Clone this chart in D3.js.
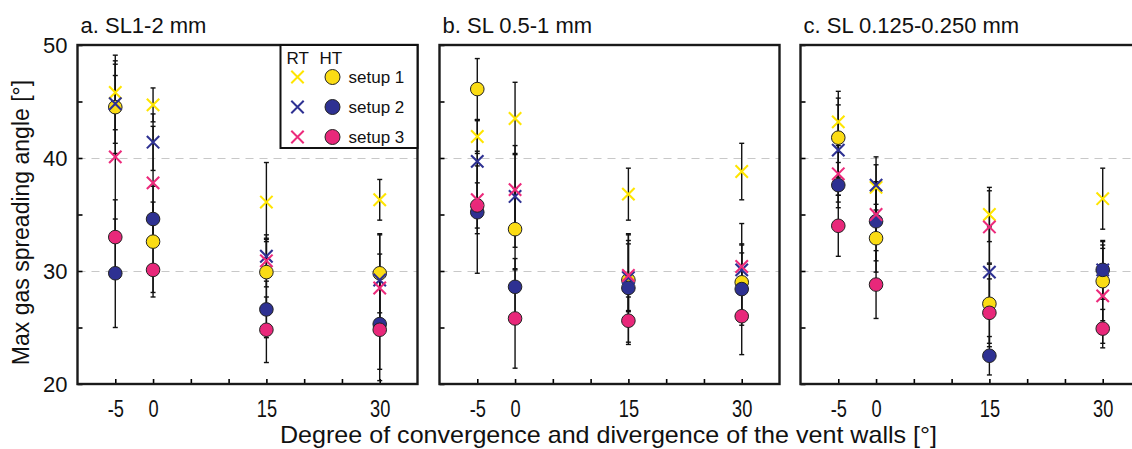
<!DOCTYPE html>
<html>
<head>
<meta charset="utf-8">
<script src="https://cdn.jsdelivr.net/npm/d3@7"></script>
<style>
  body { margin: 0; background: #fff; }
  svg { display: block; font-family: "Liberation Sans", Arial, sans-serif; }
  .grid line { stroke: #c8c8c8; stroke-dasharray: 8,6; stroke-width: 1.2; }
  .axis path { display: none; }
  .axis line { stroke: #000; stroke-width: 1.6; }
  .frame { fill: none; stroke: #1a1a1a; stroke-width: 2.4; }
  .ebar { stroke: #111; stroke-width: 1.4; }
</style>
</head>
<body>
<svg width="1132" height="449"></svg>
<script>
// x categories (degree of convergence / divergence)
var angles = [-5, 0, 15, 30];
var titles = ['a. SL1-2 mm', 'b. SL 0.5-1 mm', 'c. SL 0.125-0.250 mm'];
var seriesNames = ['RT1', 'RT2', 'RT3', 'HT1', 'HT2', 'HT3'];
var yTicks = [20, 25, 30, 35, 40, 45, 50];
var xTicks = [-5, 0, 5, 10, 15, 20, 25, 30];
var xLabels = [-5, 0, 15, 30];

// panel a: SL 1-2 mm
var a_RT1 = [45.8, 44.7, 36.1, 36.3];
var a_RT2 = [44.8, 41.4, 31.3, 29.2];
var a_RT3 = [40.1, 37.8, 30.9, 28.5];
var a_HT1 = [44.5, 32.6, 29.9, 29.8];
var a_HT2 = [29.8, 34.6, 26.6, 25.3];
var a_HT3 = [33.0, 30.1, 24.8, 24.8];
var a_errRT1 = [3.3, 1.5, 3.5, 1.8];
var a_errRT2 = [3.5, 2.5, 1.5, 4.0];
var a_errRT3 = [7.2, 5.0, 2.3, 3.0];
var a_errHT1 = [4.1, 4.9, 3.0, 3.5];
var a_errHT2 = [4.8, 1.5, 2.5, 4.0];
var a_errHT3 = [3.3, 2.0, 2.9, 4.5];

// panel b: SL 0.5-1 mm
var b_RT1 = [41.9, 43.5, 36.8, 38.8];
var b_RT2 = [39.7, 36.6, 29.4, 30.1];
var b_RT3 = [36.3, 37.2, 29.6, 30.4];
var b_HT1 = [46.1, 33.7, 29.2, 29.0];
var b_HT2 = [35.2, 28.6, 28.5, 28.4];
var b_HT3 = [35.8, 25.8, 25.6, 26.0];
var b_errRT1 = [1.5, 3.2, 2.3, 2.5];
var b_errRT2 = [3.6, 4.5, 3.0, 4.1];
var b_errRT3 = [3.0, 3.2, 3.1, 2.0];
var b_errHT1 = [2.7, 3.6, 4.0, 3.3];
var b_errHT2 = [5.4, 2.5, 4.8, 3.2];
var b_errHT3 = [2.0, 4.4, 2.1, 3.4];

// panel c: SL 0.125-0.250 mm
var c_RT1 = [43.2, 37.4, 35.0, 36.4];
var c_RT2 = [40.7, 37.6, 29.9, 30.1];
var c_RT3 = [38.6, 35.0, 33.9, 27.8];
var c_HT1 = [41.8, 32.9, 27.1, 29.1];
var c_HT2 = [37.6, 34.4, 22.5, 30.1];
var c_HT3 = [34.0, 28.8, 26.3, 24.9];
var c_errRT1 = [2.7, 2.0, 2.4, 2.7];
var c_errRT2 = [4.0, 2.5, 4.0, 2.6];
var c_errRT3 = [2.5, 2.5, 3.2, 4.2];
var c_errHT1 = [3.5, 3.0, 3.5, 3.5];
var c_errHT2 = [2.0, 3.5, 1.7, 2.2];
var c_errHT3 = [2.7, 3.0, 3.0, 1.7];

var panelValues = [
  [a_RT1, a_RT2, a_RT3, a_HT1, a_HT2, a_HT3],
  [b_RT1, b_RT2, b_RT3, b_HT1, b_HT2, b_HT3],
  [c_RT1, c_RT2, c_RT3, c_HT1, c_HT2, c_HT3]
];
var panelErrors = [
  [a_errRT1, a_errRT2, a_errRT3, a_errHT1, a_errHT2, a_errHT3],
  [b_errRT1, b_errRT2, b_errRT3, b_errHT1, b_errHT2, b_errHT3],
  [c_errRT1, c_errRT2, c_errRT3, c_errHT1, c_errHT2, c_errHT3]
];

var xColors = ['#ffe500', '#2e3192', '#ec2a7b'];
var dotColors = ['#fbdc14', '#2e3192', '#e8287a'];

var svg = d3.select('svg');
var panelLeft = [77.5, 439.5, 800.5];
var padTop = 45, pw = 340, ph = 339;

var x = d3.scaleLinear().domain([-10, 35]).range([0, pw]);
var y = d3.scaleLinear().domain([20, 50]).range([ph, 0]);

function crossPath(s) {
  return 'M' + (-s) + ',' + (-s) + 'L' + s + ',' + s + 'M' + (-s) + ',' + s + 'L' + s + ',' + (-s);
}

panelValues.forEach(function(vals, p) {
  var g = svg.append('g').attr('transform', 'translate(' + panelLeft[p] + ',' + padTop + ')');

  // dashed grid at 30 and 40
  g.append('g').attr('class', 'grid')
    .call(d3.axisLeft(y).tickValues([30, 40]).tickSize(-pw).tickFormat(''))
    .call(function(s) { s.select('.domain').remove(); });

  // y axis, ticks inward
  var yAxis = d3.axisLeft(y).tickValues(yTicks).tickSizeInner(-5).tickSizeOuter(0).tickPadding(10)
    .tickFormat(function(d) { return (p === 0 && d % 10 === 0) ? d : ''; });
  var ya = g.append('g').attr('class', 'axis').call(yAxis);
  ya.selectAll('text').style('font-size', '22px').style('fill', '#111')
    .attr('font-family', '"Liberation Sans", Arial, sans-serif');

  // x axis, ticks inward, condensed labels
  var xAxis = d3.axisBottom(x).tickValues(xTicks).tickSizeInner(-5).tickSizeOuter(0).tickPadding(16)
    .tickFormat(function(d) { return xLabels.indexOf(d) >= 0 ? d : ''; });
  var xa = g.append('g').attr('class', 'axis').attr('transform', 'translate(0,' + ph + ')').call(xAxis);
  xa.selectAll('text').style('font-size', '24px').style('fill', '#111')
    .attr('font-family', '"Liberation Sans", Arial, sans-serif')
    .attr('transform', 'scale(0.76,1)');

  // error bars
  vals.forEach(function(series, si) {
    var errs = panelErrors[p][si];
    series.forEach(function(v, i) {
      var cx = x(angles[i]);
      var y1 = y(v + errs[i]), y2 = y(v - errs[i]);
      g.append('line').attr('class', 'ebar').attr('x1', cx).attr('x2', cx).attr('y1', y1).attr('y2', y2);
      g.append('line').attr('class', 'ebar').attr('x1', cx - 2.5).attr('x2', cx + 2.5).attr('y1', y1).attr('y2', y1);
      g.append('line').attr('class', 'ebar').attr('x1', cx - 2.5).attr('x2', cx + 2.5).attr('y1', y2).attr('y2', y2);
    });
  });

  // HT circles
  [3, 4, 5].forEach(function(si, k) {
    g.selectAll('.dot' + si).data(vals[si]).enter().append('circle')
      .attr('cx', function(d, i) { return x(angles[i]); })
      .attr('cy', function(d) { return y(d); })
      .attr('r', 6.8)
      .style('fill', dotColors[k])
      .style('stroke', '#222')
      .style('stroke-width', 1);
  });

  // RT crosses
  [0, 1, 2].forEach(function(si) {
    g.selectAll('.cross' + si).data(vals[si]).enter().append('path')
      .attr('transform', function(d, i) { return 'translate(' + x(angles[i]) + ',' + y(d) + ')'; })
      .attr('d', crossPath(6.2))
      .style('fill', 'none')
      .style('stroke', xColors[si])
      .style('stroke-width', 2.1);
  });

  g.append('rect').attr('class', 'frame').attr('width', pw).attr('height', ph);

  svg.append('text')
    .attr('x', panelLeft[p] + 3)
    .attr('y', 33)
    .style('font-size', '22px')
    .style('fill', '#111')
    .text(titles[p]);

  // legend in first panel
  if (p === 0) {
    var lg = g.append('g').attr('transform', 'translate(' + (pw - 137) + ',0)');
    lg.append('rect').attr('width', 137).attr('height', 103)
      .style('fill', '#fff').style('stroke', '#111').style('stroke-width', 2);
    lg.append('text').attr('x', 6).attr('y', 19).style('font-size', '17px').style('fill', '#111').text('RT');
    lg.append('text').attr('x', 39).attr('y', 19).style('font-size', '17px').style('fill', '#111').text('HT');
    [0, 1, 2].forEach(function(k) {
      var ry = 32 + k * 30;
      lg.append('path').attr('transform', 'translate(17,' + ry + ')').attr('d', crossPath(6.2))
        .style('fill', 'none').style('stroke', xColors[k]).style('stroke-width', 2);
      lg.append('circle').attr('cx', 52).attr('cy', ry).attr('r', 7.5)
        .style('fill', dotColors[k]).style('stroke', '#222').style('stroke-width', 1);
      lg.append('text').attr('x', 68).attr('y', ry + 6).style('font-size', '17px').style('fill', '#111')
        .text('setup ' + (k + 1));
    });
  }
});

// y axis title
svg.append('text')
  .attr('transform', 'translate(29,' + (padTop + ph / 2 + 8) + ') rotate(-90)')
  .attr('text-anchor', 'middle')
  .style('font-size', '23px')
  .style('fill', '#111')
  .text('Max gas spreading angle [°]');

// x axis title, condensed to the reference width
svg.append('text')
  .attr('x', 280)
  .attr('y', 443)
  .attr('textLength', 657)
  .attr('lengthAdjust', 'spacingAndGlyphs')
  .style('font-size', '24px')
  .style('fill', '#111')
  .text('Degree of convergence and divergence of the vent walls [°]');
</script>
</body>
</html>
